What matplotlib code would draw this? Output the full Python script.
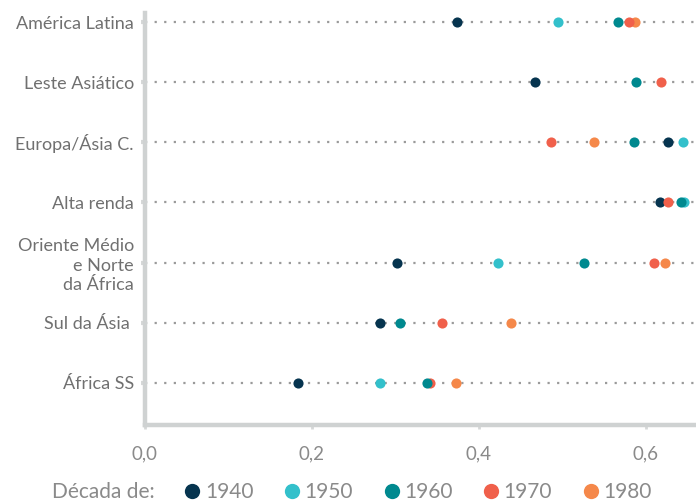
import numpy as np
import matplotlib
matplotlib.use("Agg")
import matplotlib.pyplot as plt
from matplotlib.lines import Line2D

plt.rcParams['font.family'] = ['Lato', 'DejaVu Sans']
plt.rcParams['lines.scale_dashes'] = False

# dados
regioes = ["América Latina", "Leste Asiático", "Europa/Ásia C.", "Alta renda",
           "Oriente Médio\ne Norte\nda África", "Sul da Ásia ", "África SS"]
decadas = ["1940", "1950", "1960", "1970", "1980"]

v1940 = [0.374, 0.467, 0.627, 0.617, 0.302, 0.281, 0.183]
v1950 = [0.495, np.nan, 0.645, 0.646, 0.423, np.nan, 0.281]
v1960 = [0.567, 0.588, 0.586, 0.642, 0.526, 0.305, 0.3375]
v1970 = [0.580, 0.618, 0.486, 0.626, 0.610, 0.356, 0.341]
v1980 = [0.587, np.nan, 0.538, np.nan, 0.623, 0.439, 0.372]

valores = [v1940, v1950, v1960, v1970, v1980]
cores = ["#06344f", "#33c0cb", "#00898f", "#f0604b", "#f5884a"]
ordem_z = [3, 3, 5, 4, 3.5]

cinza = "#8a8a8a"

fig = plt.figure(figsize=(6.96, 5.01), dpi=100)
ax = fig.add_axes([145/696, 76/501, 551/696, 412/501])

y = np.arange(len(regioes))

# linhas pontilhadas
for yi in y:
    ax.plot([0, 0.66], [yi, yi], color="#9a9a9a", lw=1.6,
            linestyle=(0, (1.6, 5.3)), zorder=1, clip_on=False)

for vals, cor, dec, z in zip(valores, cores, decadas, ordem_z):
    ax.plot(vals, y, 'o', color=cor, ms=7.3, mew=0, label=dec, zorder=z)

ax.set_xlim(0, 0.66)
ax.set_ylim(6.7, -0.15)
ax.set_yticks(y)
ax.set_yticklabels(regioes, fontsize=13, color="#707070", ha="right",
                   multialignment="right", linespacing=1.25)
ax.set_xticks([0, 0.2, 0.4, 0.6])
ax.set_xticklabels(["0,0", "0,2", "0,4", "0,6"], fontsize=13.5, color=cinza)

for s in ["top", "right"]:
    ax.spines[s].set_visible(False)
for s in ["left", "bottom"]:
    ax.spines[s].set_color("#cfd2d2")
    ax.spines[s].set_linewidth(3.2)

ax.tick_params(axis="y", length=3, width=3, color="#d6d8d8", pad=5)
ax.tick_params(axis="x", length=3, width=2, color="#d6d8d8", pad=12)

# legenda
yleg = 1 - 492/501
fig.text(52/696, yleg, "Década de:", fontsize=15, color=cinza,
         va="center", ha="left")
handles = [Line2D([], [], marker='o', ls='', color=c, ms=11, mew=0) for c in cores]
fig.legend(handles, decadas, loc="center left", bbox_to_anchor=(182/696, yleg),
           ncol=5, frameon=False, fontsize=15, labelcolor=cinza,
           handletextpad=0.1, columnspacing=1.35, handlelength=1.0,
           borderaxespad=0, borderpad=0)

fig.savefig("out.png", dpi=100)
